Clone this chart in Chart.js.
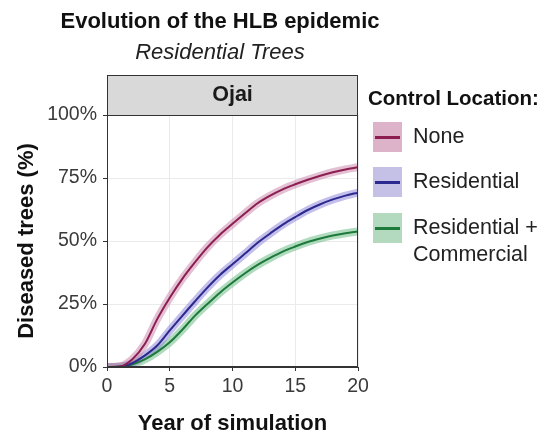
<!DOCTYPE html>
<html>
<head>
<meta charset="utf-8">
<script src="https://cdn.jsdelivr.net/npm/chart.js@4/dist/chart.umd.min.js"></script>
<style>
  html, body { margin: 0; padding: 0; background: #fff; }
  body { width: 551px; height: 437px; position: relative; overflow: hidden; font-family: "Liberation Sans", Arial, sans-serif; color: #111; }
  #wrap { position: absolute; left: 0; top: 0; width: 551px; height: 437px; }
  .title { position: absolute; left: 0; width: 440px; text-align: center; white-space: nowrap; }
  #t1 { top: 8px; font-size: 22px; font-weight: bold; }
  #t2 { top: 39px; font-size: 22px; font-style: italic; color: #222; }
  #legend { position: absolute; left: 368px; top: 86px; }
  .lg-title { font-size: 20.5px; font-weight: bold; white-space: nowrap; }
  .lg-item { position: absolute; left: 0; }
  .lg-key { position: absolute; left: 5px; width: 29px; height: 30px; }
  .lg-key i { position: absolute; left: 2px; right: 2px; top: 14px; height: 2.5px; }
  .lg-label { position: absolute; left: 45px; font-size: 21.5px; line-height: 27px; white-space: nowrap; color: #222; }
</style>
</head>
<body>
<div id="wrap"><canvas id="hlbChart" width="551" height="437"></canvas></div>
<div class="title" id="t1">Evolution of the HLB epidemic</div>
<div class="title" id="t2">Residential Trees</div>
<div id="legend"></div>

<script>
// ---- data ----
const years = [0, 1, 2, 3, 4, 5, 6, 7, 8, 9, 10, 11, 12, 13, 14, 15, 16, 17, 18, 19, 20];
const noneControl = [0, 0.2, 3, 9, 19, 27.5, 35, 41.5, 47.5, 52.5, 56.8, 61, 65, 68, 70.5, 72.5, 74.3, 75.9, 77.3, 78.4, 79.3];
const residential = [0, 0.1, 1.5, 4.5, 8.5, 14.5, 20.3, 26, 31.5, 36.5, 40.8, 45, 49.3, 53, 56.5, 59.5, 62.3, 64.6, 66.5, 68, 69.2];
const resCommercial = [0, 0.1, 1, 3, 6, 9.8, 14.8, 20.3, 25, 29.5, 33.5, 37.2, 40.5, 43.3, 45.8, 47.8, 49.6, 51, 52.2, 53.1, 53.8];
const yTicks = [0, 25, 50, 75, 100];
const xTicks = [0, 5, 10, 15, 20];
const facetLabel = 'Ojai';

const series = [
  { label: 'None', data: noneControl, line: '#8c1f50', band: 'rgba(200,130,168,0.5)', key: '#dcb3c8' },
  { label: 'Residential', data: residential, line: '#2c2a90', band: 'rgba(138,128,214,0.5)', key: '#c4c0e6' },
  { label: ['Residential +', 'Commercial'], data: resCommercial, line: '#1d7a3a', band: 'rgba(98,184,126,0.5)', key: '#b3dabf' }
];

const pts = arr => years.map((t, i) => ({ x: t, y: arr[i] }));

const datasets = [];
series.forEach(s => {
  datasets.push({
    data: pts(s.data), borderColor: s.line, borderWidth: 2,
    pointRadius: 0, cubicInterpolationMode: 'monotone', fill: false, order: 1
  });
  // translucent ribbon around each curve
  datasets.push({
    data: pts(s.data), borderColor: s.band, borderWidth: 8,
    pointRadius: 0, cubicInterpolationMode: 'monotone', fill: false, order: 2
  });
});

// panel border + facet strip
const panelPlugin = {
  id: 'panel',
  afterDraw(chart) {
    const { ctx, chartArea: a } = chart;
    ctx.save();
    ctx.strokeStyle = '#333';
    ctx.lineWidth = 1;
    ctx.fillStyle = '#d9d9d9';
    ctx.fillRect(a.left, a.top - 40, a.right - a.left, 40);
    ctx.strokeRect(a.left + 0.5, a.top - 40 + 0.5, a.right - a.left - 1, 40);
    ctx.strokeRect(a.left + 0.5, a.top + 0.5, a.right - a.left - 1, a.bottom - a.top - 1);
    ctx.fillStyle = '#1a1a1a';
    ctx.font = 'bold 21.5px "Liberation Sans", Arial, sans-serif';
    ctx.textAlign = 'center';
    ctx.textBaseline = 'middle';
    ctx.fillText(facetLabel, (a.left + a.right) / 2, a.top - 20);
    ctx.restore();
  }
};

new Chart(document.getElementById('hlbChart'), {
  type: 'line',
  data: { datasets },
  options: {
    responsive: false, animation: false,
    layout: { padding: { top: 115, right: 193, left: 0, bottom: 0 } },
    plugins: { legend: { display: false }, tooltip: { enabled: false } },
    scales: {
      x: {
        type: 'linear', min: 0, max: 20,
        afterFit: s => { s.height = 70; },
        afterBuildTicks: s => { s.ticks = xTicks.map(v => ({ value: v })); },
        grid: { color: '#ebebeb', tickColor: '#333', tickLength: 4 },
        border: { color: '#333' },
        ticks: { padding: 4, color: '#3a3a3a', font: { size: 19.5, family: '"Liberation Sans", Arial' }, maxRotation: 0 },
        title: { display: true, text: 'Year of simulation', color: '#111', padding: { top: 0, bottom: 0 },
                 font: { size: 22, weight: 'bold', family: '"Liberation Sans", Arial' } }
      },
      y: {
        min: 0, max: 100,
        afterFit: s => { s.width = 107; },
        afterBuildTicks: s => { s.ticks = yTicks.map(v => ({ value: v })); },
        grid: { color: '#ebebeb', tickColor: '#333', tickLength: 4 },
        border: { color: '#333' },
        ticks: { padding: 6, color: '#3a3a3a', font: { size: 19.5, family: '"Liberation Sans", Arial' }, callback: v => v + '%' },
        title: { display: true, text: 'Diseased trees (%)', color: '#111', padding: { top: 14, bottom: 0 },
                 font: { size: 22, weight: 'bold', family: '"Liberation Sans", Arial' } }
      }
    }
  },
  plugins: [panelPlugin]
});

// legend (html)
const lg = document.getElementById('legend');
lg.innerHTML = '<div class="lg-title">Control Location:</div>';
const keyTops = [36, 81, 127];
series.forEach((s, i) => {
  const lines = Array.isArray(s.label) ? s.label : [s.label];
  const item = document.createElement('div');
  item.className = 'lg-item';
  item.style.top = keyTops[i] + 'px';
  item.innerHTML =
    `<div class="lg-key" style="background:${s.key}"><i style="background:${s.line}"></i></div>` +
    `<div class="lg-label" style="top:1px">${lines.join('<br>')}</div>`;
  lg.appendChild(item);
});
</script>
</body>
</html>
